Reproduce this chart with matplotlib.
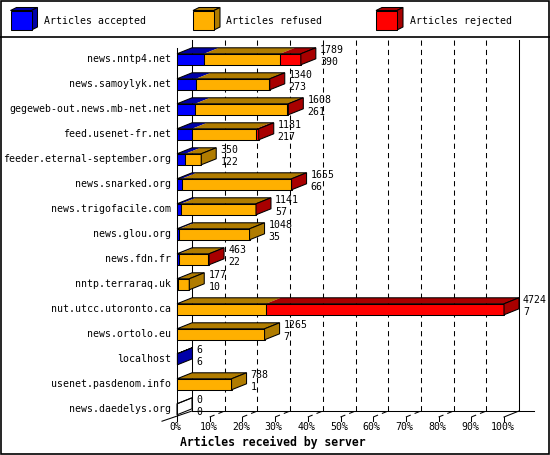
import matplotlib
matplotlib.use("Agg")
import matplotlib.pyplot as plt
from matplotlib.patches import Polygon, Rectangle

plt.rcParams['font.family'] = ['DejaVu Sans Mono']

# data
servers = ["news.nntp4.net", "news.samoylyk.net", "gegeweb-out.news.mb-net.net",
           "feed.usenet-fr.net", "feeder.eternal-september.org", "news.snarked.org",
           "news.trigofacile.com", "news.glou.org", "news.fdn.fr", "nntp.terraraq.uk",
           "nut.utcc.utoronto.ca", "news.ortolo.eu", "localhost", "usenet.pasdenom.info",
           "news.daedelys.org"]
total = [1789, 1340, 1608, 1181, 350, 1655, 1141, 1048, 463, 177, 4724, 1265, 6, 788, 0]
accepted = [390, 273, 261, 217, 122, 66, 57, 35, 22, 10, 7, 7, 6, 1, 0]
refused = [1098, 1056, 1324, 924, 228, 1576, 1080, 1013, 430, 167, 1275, 1258, 0, 787, 0]
rejected = [301, 11, 23, 40, 0, 13, 4, 0, 11, 0, 3442, 0, 0, 0, 0]
legend_labels = ["Articles accepted", "Articles refused", "Articles rejected"]
pct_ticks = [0, 10, 20, 30, 40, 50, 60, 70, 80, 90, 100]

front = ['#0000ff', '#ffb000', '#ff0000']
dark = ['#0000a8', '#b07c00', '#a80000']
FS = 7.1

W, H = 550, 455
fig = plt.figure(figsize=(W / 100, H / 100), dpi=100)

# background axes in pixel coords: border + legend
lax = fig.add_axes([0, 0, 1, 1])
lax.set_xlim(0, W)
lax.set_ylim(H, 0)
lax.axis('off')
lax.add_patch(Rectangle((0.5, 0.5), W - 1.5, H - 1.5, fill=False, ec='k', lw=1.2))
lax.plot([0, W], [36.5, 36.5], color='k', lw=1.2)
for j, (x0, lab) in enumerate(zip([10.5, 193, 376], legend_labels)):
    lax.add_patch(Polygon([(x0, 10.5), (x0 + 21, 10.5), (x0 + 27, 7.5), (x0 + 6, 7.5)],
                          closed=True, fc=dark[j], ec='k', lw=0.75))
    lax.add_patch(Polygon([(x0 + 21, 10.5), (x0 + 27, 7.5), (x0 + 27, 27), (x0 + 21, 30)],
                          closed=True, fc=dark[j], ec='k', lw=0.75))
    lax.add_patch(Rectangle((x0, 10.5), 21, 19.5, fc=front[j], ec='k', lw=0.75))
    lax.text(x0 + 33.5, 21, lab, fontsize=FS, va='center', ha='left')

# main chart axes: front plane of the bars
ax = fig.add_axes([177 / W, 1 - 417 / H, 327 / W, 377 / H])
xmax = max(total)
ax.set_xlim(0, xmax)
ax.set_ylim(14.308, -0.772)
ax.axis('off')

ux = xmax / 327.0   # articles per pixel
uy = 1 / 25.0       # rows per pixel
dx = 15 * ux
dy = -6 * uy
h = 5.5 * uy

y_top = -0.772
y_floor = 14.308
y_bfloor = y_floor + dy

# back wall and floor
for k in pct_ticks:
    xf = k / 100 * xmax
    ls = '-' if k in (0, 100) else (0, (5, 4))
    ax.plot([xf + dx, xf + dx], [y_top, y_bfloor], color='k', lw=0.75, ls=ls, clip_on=False, zorder=1)
    if k == 0:
        ax.plot([xf + dx, xf - dx], [y_bfloor, y_floor - 0.7 * dy], color='k', lw=0.75, clip_on=False, zorder=1)
    else:
        ax.plot([xf, xf + dx], [y_floor, y_bfloor], color='k', lw=0.75, ls=ls, clip_on=False, zorder=1)
    ax.plot([xf, xf], [y_floor, y_floor + 4 * uy], color='k', lw=0.75, clip_on=False, zorder=1)
    ax.annotate(f"{k}%", xy=(xf, y_floor), xytext=(-1, -7), textcoords='offset points',
                fontsize=FS, ha='center', va='center', annotation_clip=False)
ax.plot([dx, xmax + 2 * dx], [y_bfloor, y_bfloor], color='k', lw=0.75, clip_on=False, zorder=1)
ax.plot([0, 0], [-0.45, y_floor], color='k', lw=0.75, clip_on=False, zorder=1)

# bars
for i in range(len(servers)):
    segs = [accepted[i], refused[i], rejected[i]]
    y0, y1 = i - h, i + h
    left = 0
    last = None
    for j, v in enumerate(segs):
        if v == 0:
            continue
        right = left + v
        ax.add_patch(Polygon([(left, y0), (right, y0), (right + dx, y0 + dy), (left + dx, y0 + dy)],
                             closed=True, fc=dark[j], ec='none', zorder=3, clip_on=False))
        ax.add_patch(Rectangle((left, y0), v, 2 * h, fc=front[j], ec='k', lw=0.75, zorder=4, clip_on=False))
        left = right
        last = j
    t = total[i]
    ax.add_patch(Polygon([(0, y0), (t, y0), (t + dx, y0 + dy), (dx, y0 + dy)],
                         closed=True, fill=False, ec='k', lw=0.75, zorder=5, clip_on=False))
    ax.add_patch(Polygon([(t, y0), (t + dx, y0 + dy), (t + dx, y1 + dy), (t, y1)], closed=True,
                         fc=dark[last] if last is not None else 'none', ec='k', lw=0.75, zorder=5,
                         clip_on=False))
    ax.annotate(str(t), xy=(t + dx, i), xytext=(2.9, 6.5), textcoords='offset points',
                fontsize=FS, ha='left', va='center', annotation_clip=False)
    ax.annotate(str(accepted[i]), xy=(t + dx, i), xytext=(2.9, -1.6), textcoords='offset points',
                fontsize=FS, ha='left', va='center', annotation_clip=False)
    ax.annotate(servers[i], xy=(0, i), xytext=(-4.2, 0), textcoords='offset points',
                fontsize=FS, ha='right', va='center', annotation_clip=False)

fig.text(180 / W, 1 - 442 / H, "Articles received by server", fontsize=8.3,
         fontweight='bold', ha='left', va='center')

fig.savefig('out.png', dpi=100)
